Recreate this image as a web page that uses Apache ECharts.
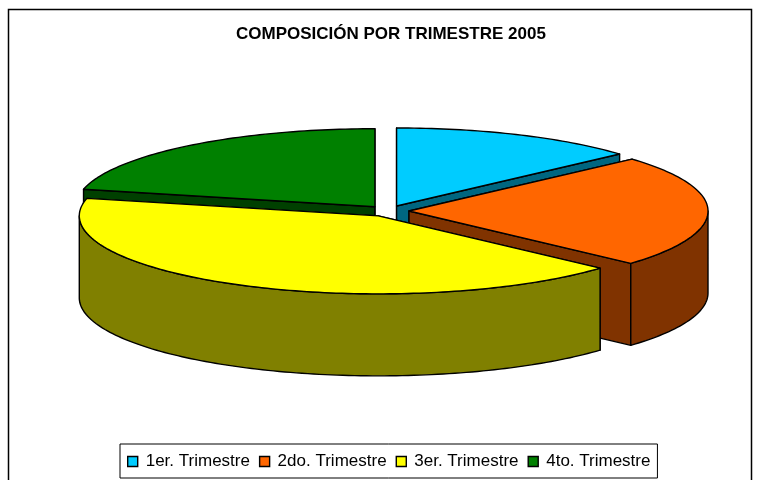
<!DOCTYPE html>
<html>
<head>
<meta charset="utf-8">
<title>Composición por trimestre 2005</title>
<script src="https://cdn.jsdelivr.net/npm/echarts@6/dist/echarts.min.js"></script>
<style>
  html, body { margin: 0; padding: 0; background: #fff; }
  #chart { width: 763px; height: 480px; }
</style>
</head>
<body>
<div id="chart"></div>
<script>
// datos
const titleText = 'COMPOSICIÓN POR TRIMESTRE 2005';
const categories = ['1er. Trimestre', '2do. Trimestre', '3er. Trimestre', '4to. Trimestre'];
const values = [13.4, 23.3, 41.9, 21.4];
const topColors = ['#00CCFF', '#FF6600', '#FFFF00', '#008000'];
const sideColors = ['#006680', '#803300', '#808000', '#004000'];

// geometria del pastel 3D
const CX = 388, CY = 211, RX = 299, RY = 78, DEPTH = 82, EXPLODE = 21;
const total = values.reduce((a, b) => a + b, 0);

// angulos en radianes, desde las 12 en sentido horario
let acc = 0;
const slices = values.map((v) => {
  const start = (acc / total) * Math.PI * 2;
  acc += v;
  const end = (acc / total) * Math.PI * 2;
  return { start, end, mid: (start + end) / 2 };
});

function arcPoints(ox, oy, a0, a1, dy) {
  const n = Math.max(2, Math.ceil((a1 - a0) / 0.02));
  const pts = [];
  for (let i = 0; i <= n; i++) {
    const a = a0 + ((a1 - a0) * i) / n;
    pts.push([ox + RX * Math.sin(a), oy - RY * Math.cos(a) + dy]);
  }
  return pts;
}

function poly(points, fill) {
  return {
    type: 'polygon',
    shape: { points },
    style: { fill, stroke: '#000', lineWidth: 1.4, lineJoin: 'round' },
  };
}

function renderSlice(index) {
  return function () {
    const { start, end, mid } = slices[index];
    const ox = CX + EXPLODE * Math.sin(mid);
    const oy = CY - (EXPLODE * RY * Math.cos(mid)) / RX;
    const side = sideColors[index];
    const children = [];

    // caras de corte, quedan tapadas si miran hacia atras
    [start, end].forEach((a) => {
      const ex = ox + RX * Math.sin(a);
      const ey = oy - RY * Math.cos(a);
      children.push(poly([[ox, oy], [ex, ey], [ex, ey + DEPTH], [ox, oy + DEPTH]], side));
    });

    // pared exterior, solo la parte frontal
    const w0 = Math.max(start, Math.PI / 2);
    const w1 = Math.min(end, (Math.PI * 3) / 2);
    if (w1 > w0) {
      children.push(poly(
        arcPoints(ox, oy, w0, w1, 0).concat(arcPoints(ox, oy, w0, w1, DEPTH).reverse()),
        side
      ));
    }

    // cara superior
    children.push(poly([[ox, oy]].concat(arcPoints(ox, oy, start, end, 0)), topColors[index]));

    children.forEach((c, i) => { c.z2 = i; });
    return { type: 'group', children };
  };
}

const chart = echarts.init(document.getElementById('chart'), null, { renderer: 'canvas' });

chart.setOption({
  animation: false,
  backgroundColor: '#fff',
  title: {
    text: titleText,
    left: 236,
    top: 26,
    itemGap: 0,
    padding: 0,
    textStyle: { fontFamily: 'Liberation Sans', fontSize: 17, fontWeight: 'bold', color: '#000' },
  },
  legend: {
    left: 120,
    top: 444,
    orient: 'horizontal',
    icon: 'rect',
    itemWidth: 10,
    itemHeight: 10,
    itemGap: 9,
    padding: [9, 7, 8, 7],
    borderColor: '#000',
    borderWidth: 1,
    backgroundColor: '#fff',
    selectedMode: false,
    itemStyle: { borderColor: '#000', borderWidth: 1.4 },
    textStyle: { fontFamily: 'Liberation Sans', fontSize: 17, color: '#000', padding: [0, 0, 0, 3] },
    data: categories,
  },
  graphic: [
    {
      type: 'rect',
      silent: true,
      z: -1,
      shape: { x: 8.5, y: 9.5, width: 743, height: 490 },
      style: { fill: 'none', stroke: '#000', lineWidth: 1.5 },
    },
  ],
  // un pedazo por serie, los de atras se pintan primero
  series: categories.map((name, i) => ({
    type: 'custom',
    name,
    coordinateSystem: 'none',
    silent: true,
    z: 2 + Math.round(10 * (1 - Math.cos(slices[i].mid))),
    itemStyle: { color: topColors[i] },
    renderItem: renderSlice(i),
    data: [values[i]],
  })),
});

window.addEventListener('resize', () => chart.resize());
</script>
</body>
</html>
